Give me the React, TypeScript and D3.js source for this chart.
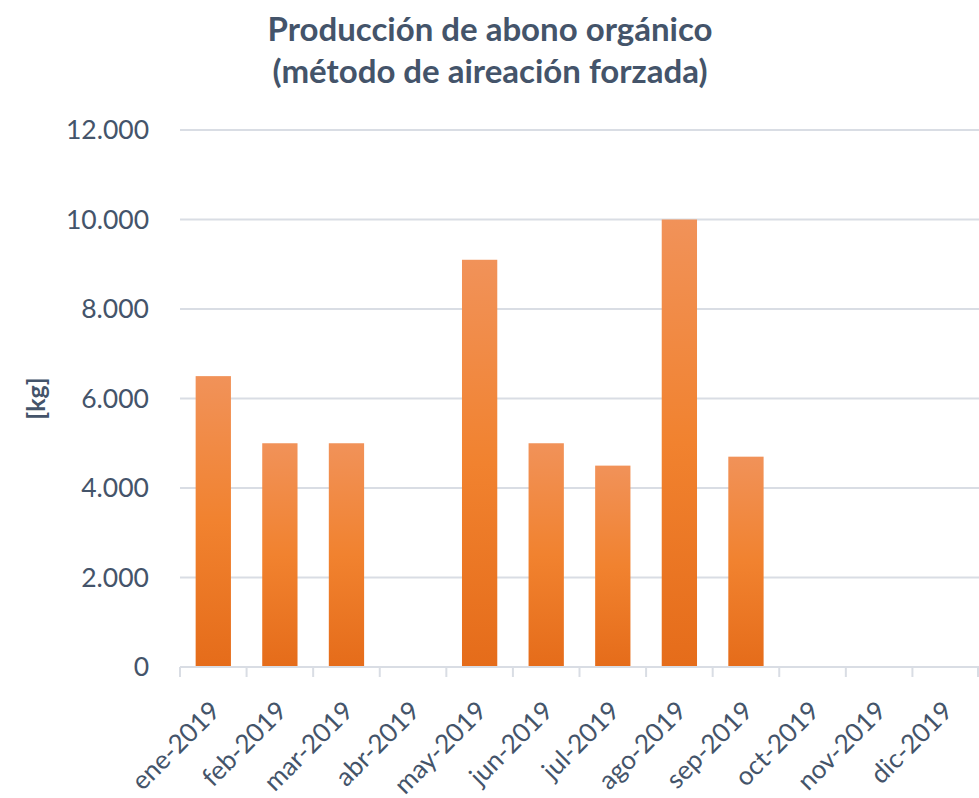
import React from "react";
import * as d3 from "d3";

const categories = ["ene-2019","feb-2019","mar-2019","abr-2019","may-2019","jun-2019","jul-2019","ago-2019","sep-2019","oct-2019","nov-2019","dic-2019"];
const values = [6500, 5000, 5000, 0, 9100, 5000, 4500, 10000, 4700, 0, 0, 0];
const yTicks = [0, 2000, 4000, 6000, 8000, 10000, 12000];
const titleLines = ["Producción de abono orgánico", "(método de aireación forzada)"];
const yTitle = "[kg]";

const W = 979, H = 798;
const left = 180, right = 979, top = 130, bottom = 667;
const font = "Lato, 'Open Sans', sans-serif";
const textColor = "#44546a";

export default function App() {
  const x = d3.scaleBand().domain(categories).range([left, right]).paddingInner(0.47).paddingOuter(0.235);
  const band = d3.scaleBand().domain(categories).range([left, right]);
  const y = d3.scaleLinear().domain([0, 12000]).range([bottom, top]);
  const fmt = (v: number) => d3.format(",")(v).replace(/,/g, ".");
  return (
    <svg width={W} height={H} style={{ position: "absolute", left: 0, top: 0, fontFamily: font }}>
      <defs>
        <linearGradient id="g" x1="0" y1="0" x2="0" y2="1">
          <stop offset="0%" stopColor="#f19259" />
          <stop offset="50%" stopColor="#f1822f" />
          <stop offset="100%" stopColor="#e56c1a" />
        </linearGradient>
      </defs>
      <rect width={W} height={H} fill="#fff" />
      {titleLines.map((t, i) => (
        <text key={i} x={490} y={41 + i * 42} textAnchor="middle" fontSize={33} fontWeight="bold" fill={textColor}>{t}</text>
      ))}
      {yTicks.map((t) => (
        <g key={t}>
          {t > 0 && <line x1={left} x2={right} y1={y(t)} y2={y(t)} stroke="#d9dde4" strokeWidth={2} />}
          <text x={149} y={y(t)} dy="0.35em" textAnchor="end" fontSize={26.5} fill={textColor}>{fmt(t)}</text>
        </g>
      ))}
      <text transform={`translate(45,${(top + bottom) / 2}) rotate(-90)`} textAnchor="middle" fontSize={25} fontWeight="bold" fill={textColor}>{yTitle}</text>
      {categories.map((c, i) => (
        values[i] > 0 ? (
          <rect key={c} x={x(c)} y={y(values[i])} width={x.bandwidth()} height={bottom - y(values[i])} fill="url(#g)" />
        ) : null
      ))}
      <line x1={left} x2={right} y1={bottom} y2={bottom} stroke="#d9dde4" strokeWidth={2} />
      {categories.map((c) => (
        <line key={"t" + c} x1={band(c)!} x2={band(c)!} y1={bottom} y2={bottom + 10} stroke="#d9dde4" strokeWidth={2} />
      ))}
      <line x1={right - 1} x2={right - 1} y1={bottom} y2={bottom + 10} stroke="#d9dde4" strokeWidth={2} />
      {categories.map((c) => {
        const cx = band(c)! + band.bandwidth() / 2;
        return (
          <text key={"l" + c} transform={`translate(${cx + 2},${bottom + 39}) rotate(-45)`} textAnchor="end" dy="0.35em" fontSize={26} fill={textColor}>{c}</text>
        );
      })}
    </svg>
  );
}
